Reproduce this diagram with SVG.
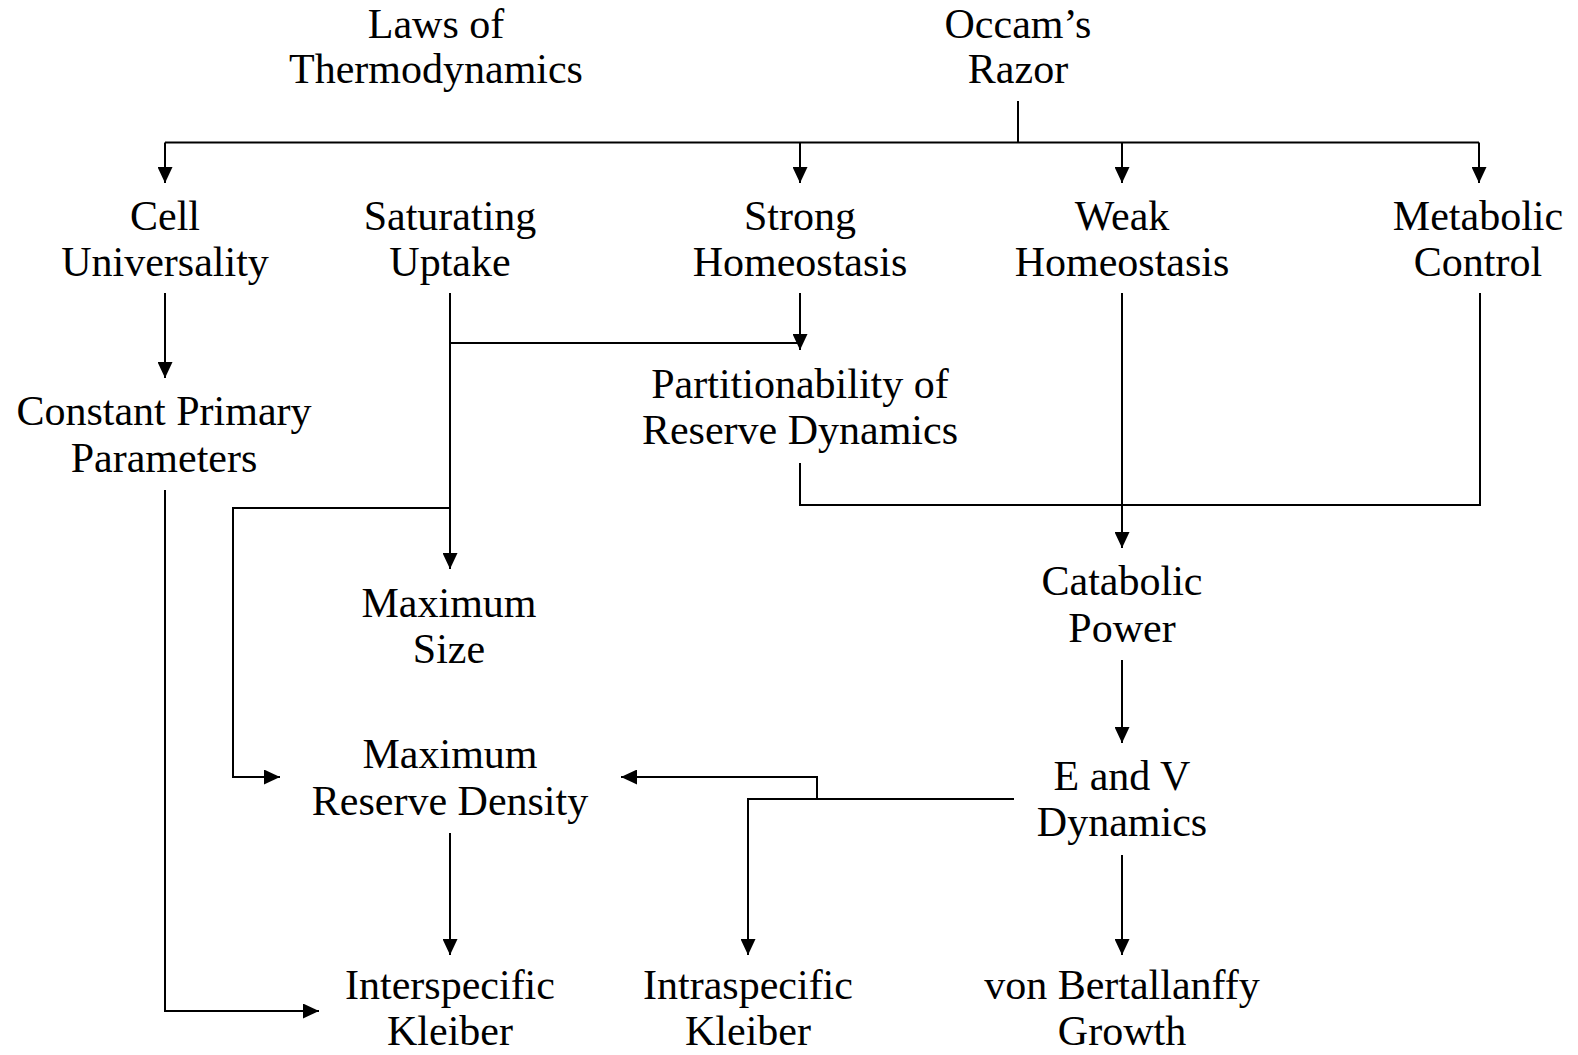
<svg xmlns="http://www.w3.org/2000/svg" width="1578" height="1055" viewBox="0 0 1578 1055">
<style>
  text { font-family: "Liberation Serif", "Times New Roman", serif; font-size: 42px; fill: #000; text-anchor: middle; }
  .c path { fill: none; stroke: #000; stroke-width: 2; }
  .a { marker-end: url(#arr); }
</style>
<defs>
  <marker id="arr" markerUnits="userSpaceOnUse" markerWidth="16" markerHeight="15" refX="16" refY="7.5" orient="auto">
    <path d="M0,0 L16,7.5 L0,15 z" fill="#000"/>
  </marker>
</defs>
<rect width="1578" height="1055" fill="#fff"/>
<g id="connectors" class="c">
  <path d="M1018,101 V142.5"/>
  <path d="M165,142.5 H1479"/>
  <path class="a" d="M165,142.5 V183"/>
  <path class="a" d="M800,142.5 V183"/>
  <path class="a" d="M1122,142.5 V183"/>
  <path class="a" d="M1479,142.5 V183"/>
  <path class="a" d="M165,293 V378"/>
  <path class="a" d="M450,293 V569"/>
  <path d="M450,343 H800"/>
  <path class="a" d="M800,293 V350"/>
  <path class="a" d="M450,508 H233 V777 H280"/>
  <path d="M800,463 V505 H1480 V293"/>
  <path class="a" d="M1122,293 V548"/>
  <path class="a" d="M1122,660 V743"/>
  <path class="a" d="M1014,799 H817 V777 H621"/>
  <path class="a" d="M817,799 H748 V955"/>
  <path class="a" d="M1122,855 V955"/>
  <path class="a" d="M450,833 V955"/>
  <path class="a" d="M165,490 V1011 H319"/>
</g>
<g id="laws"><text x="436" y="38">Laws of</text><text x="436" y="83">Thermodynamics</text></g>
<g id="occam"><text x="1018" y="38">Occam’s</text><text x="1018" y="83">Razor</text></g>
<g id="cell"><text x="165" y="230">Cell</text><text x="165" y="276">Universality</text></g>
<g id="saturating"><text x="450" y="230">Saturating</text><text x="450" y="276">Uptake</text></g>
<g id="strong"><text x="800" y="230">Strong</text><text x="800" y="276">Homeostasis</text></g>
<g id="weak"><text x="1122" y="230">Weak</text><text x="1122" y="276">Homeostasis</text></g>
<g id="metabolic"><text x="1478" y="230">Metabolic</text><text x="1478" y="276">Control</text></g>
<g id="constant"><text x="164" y="425">Constant Primary</text><text x="164" y="472">Parameters</text></g>
<g id="partition"><text x="800" y="398">Partitionability of</text><text x="800" y="444">Reserve Dynamics</text></g>
<g id="maxsize"><text x="449" y="617">Maximum</text><text x="449" y="663">Size</text></g>
<g id="catabolic"><text x="1122" y="595">Catabolic</text><text x="1122" y="642">Power</text></g>
<g id="maxreserve"><text x="450" y="768">Maximum</text><text x="450" y="815">Reserve Density</text></g>
<g id="ev"><text x="1122" y="790">E and V</text><text x="1122" y="836">Dynamics</text></g>
<g id="inter"><text x="450" y="999">Interspecific</text><text x="450" y="1045">Kleiber</text></g>
<g id="intra"><text x="748" y="999">Intraspecific</text><text x="748" y="1045">Kleiber</text></g>
<g id="vonb"><text x="1122" y="999">von Bertallanffy</text><text x="1122" y="1045">Growth</text></g>
</svg>
